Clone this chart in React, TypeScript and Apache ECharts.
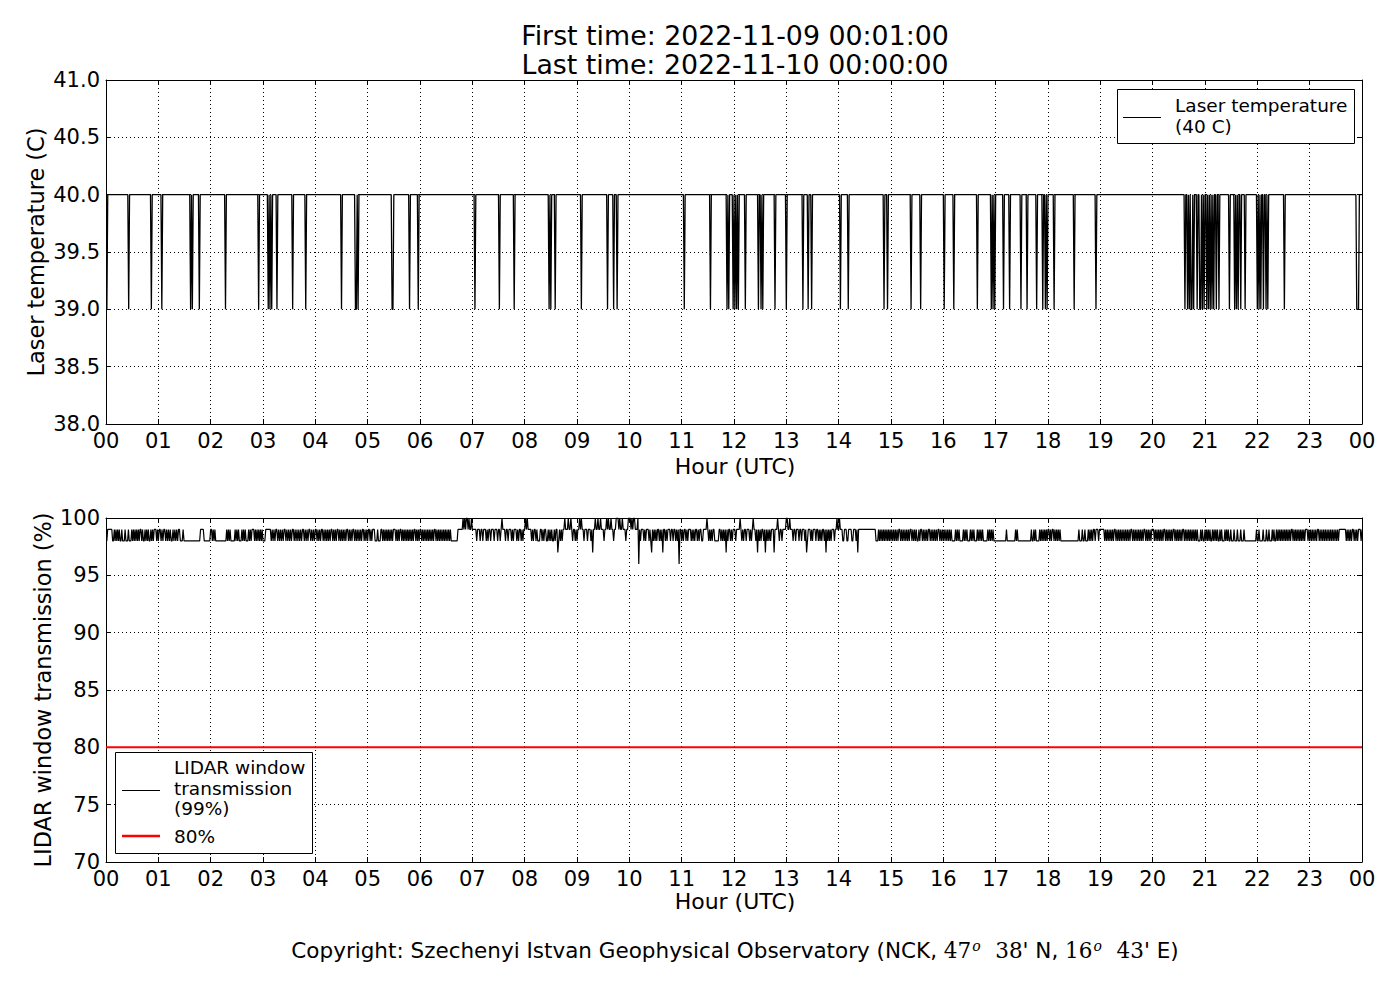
import React, { useEffect, useRef } from "react";
import * as echarts from "echarts";

const FONT = "DejaVu Sans";

const TITLE_LINES = ["First time: 2022-11-09 00:01:00", "Last time: 2022-11-10 00:00:00"];
const HOUR_LABELS = [
  "00", "01", "02", "03", "04", "05", "06", "07", "08", "09", "10", "11",
  "12", "13", "14", "15", "16", "17", "18", "19", "20", "21", "22", "23", "00",
];

// Laser temperature: 40 C every minute except the minutes listed (39 C)
const TEMP_NORMAL = 40;
const TEMP_LOW = 39;
const TEMP_LOW_MINUTES = [
  1, 26, 52, 64, 97, 99, 107, 137, 175, 186, 188, 190, 196, 214, 229, 270, 286, 287, 289,
  328, 329, 348, 358, 423, 451, 468, 508, 510, 515, 545, 575, 582, 586, 663, 693, 712, 714,
  719, 721, 723, 725, 733, 748, 751, 753, 767, 780, 799, 805, 809, 842, 851, 892, 896, 923,
  934, 961, 972, 999, 1015, 1017, 1019, 1029, 1036, 1049, 1056, 1067, 1074, 1077, 1079, 1087,
  1110, 1135, 1237, 1240, 1242, 1244, 1245, 1247, 1251, 1254, 1255, 1257, 1259, 1262, 1264,
  1266, 1268, 1270, 1273, 1276, 1288, 1294, 1296, 1298, 1301, 1306, 1320, 1322, 1324, 1327,
  1330, 1332, 1351, 1434, 1435, 1436,
];

// LIDAR window transmission, one character per minute for each hour
const TRANS_CODE: Record<string, number> = { "6": 96, "7": 97, "8": 98, "9": 99, "0": 100 };
const TRANS_HOURS = [
  "899999988989898988988898889888989898989899898898989889898999898",
  "998989989898988989898998889888888888888888888999988888889",
  "98989888888888888898989888889898988898989888989899989898989898",
  "889999998989899898989899898989899898989898998989899898989",
  "989898998989898989989898998989898989989898998989898989989898",
  "998989998889888998989898989898999898989989898989898989899898989",
  "98989898989898989989898989898989898988888888999999090900909909",
  "999989998998999898998999899989989099989989998989998989989899",
  "090999989899898889989899889898988989978989899099909909899898",
  "990909989998999897990990990999899090990998990009099099989900",
  "0909009990698999898999898798989899898979989899989989989896998",
  "989989899989898998989988999909898989988888998989897989989899",
  "989999098989989998989099897989899897989898999799909899899990",
  "09909998998999899899989789998989998998989899897989898999899099",
  "099988999889999889998979999999999999999999998889898989898989898",
  "989898989989898989898998989898898998989898998989898989989898",
  "989898989888898989888898989888989898889898989888889898989888",
  "888888888888988888888889898888888888888888988989888898989898989",
  "9898998989898988888888888888888888898889889888989898998999899",
  "999989898989898998989898989898989899898989898989899898989899",
  "9898989898989989898989899898989898998989898989898989888989889",
  "898989889898989889898889898988988898889888988898888888888888898",
  "898888988898898889898898989898989898989899898989898989898999898",
  "989898989989898989898989898989898999999998989898998989899989",
];
const THRESHOLD = 80;

function tempSeries(): [number, number][] {
  const low = new Set(TEMP_LOW_MINUTES);
  const out: [number, number][] = [];
  for (let m = 1; m <= 1440; m++) out.push([m / 60, low.has(m) ? TEMP_LOW : TEMP_NORMAL]);
  return out;
}

function transSeries(): [number, number][] {
  const out: [number, number][] = [];
  TRANS_HOURS.forEach((s, h) => {
    for (let j = 0; j < s.length; j++) out.push([h + (j + 1) / s.length, TRANS_CODE[s[j]]]);
  });
  return out;
}

const TICK_FONT = 21;
const GRID_LINE = { color: "#000", width: 1, type: [1, 3] as number[] };

function xAxes(gridIndex: number) {
  return [
    {
      type: "value", gridIndex, min: 0, max: 24, interval: 1, position: "bottom",
      axisLine: { show: true, onZero: false, lineStyle: { color: "#000", width: 1 } },
      axisTick: { show: true, inside: true, length: 5, lineStyle: { color: "#000" } },
      axisLabel: {
        show: true, margin: 6, color: "#000", fontSize: TICK_FONT, fontFamily: FONT,
        formatter: (v: number) => HOUR_LABELS[Math.round(v)],
      },
      splitLine: { show: true, lineStyle: GRID_LINE },
    },
    {
      type: "value", gridIndex, min: 0, max: 24, interval: 1, position: "top",
      axisLine: { show: true, onZero: false, lineStyle: { color: "#000", width: 1 } },
      axisTick: { show: true, inside: true, length: 5, lineStyle: { color: "#000" } },
      axisLabel: { show: false },
      splitLine: { show: false },
    },
  ];
}

function yAxes(gridIndex: number, min: number, max: number, interval: number, digits: number) {
  return [
    {
      type: "value", gridIndex, min, max, interval, position: "left",
      axisLine: { show: true, onZero: false, lineStyle: { color: "#000", width: 1 } },
      axisTick: { show: true, inside: true, length: 5, lineStyle: { color: "#000" } },
      axisLabel: {
        show: true, margin: 6, color: "#000", fontSize: TICK_FONT, fontFamily: FONT,
        formatter: (v: number) => v.toFixed(digits),
      },
      splitLine: { show: true, lineStyle: GRID_LINE },
    },
    {
      type: "value", gridIndex, min, max, interval, position: "right",
      axisLine: { show: true, onZero: false, lineStyle: { color: "#000", width: 1 } },
      axisTick: { show: true, inside: true, length: 5, lineStyle: { color: "#000" } },
      axisLabel: { show: false },
      splitLine: { show: false },
    },
  ];
}

function txt(text: string, x: number, y: number, size: number, extra: any = {}) {
  return {
    type: "text", x, y, z: 100,
    style: { text, fontSize: size, fontFamily: FONT, fill: "#000", align: "center", verticalAlign: "middle", ...extra },
  };
}

export default function App() {
  const ref = useRef<HTMLDivElement>(null);
  useEffect(() => {
    if (!ref.current) return;
    const chart = echarts.init(ref.current, null, { renderer: "svg" });
    const option: any = {
      animation: false,
      backgroundColor: "#fff",
      grid: [
        { left: 106, top: 80, width: 1256, height: 344, containLabel: false },
        { left: 106, top: 518, width: 1256, height: 344, containLabel: false },
      ],
      xAxis: [...xAxes(0), ...xAxes(1)],
      yAxis: [...yAxes(0, 38, 41, 0.5, 1), ...yAxes(1, 70, 100, 5, 0)],
      series: [
        {
          name: "Laser temperature (40 C)", type: "line", xAxisIndex: 0, yAxisIndex: 0,
          data: tempSeries(), showSymbol: false, symbol: "none",
          lineStyle: { color: "#000", width: 1.3 }, z: 3,
        },
        {
          name: "LIDAR window transmission (99%)", type: "line", xAxisIndex: 2, yAxisIndex: 2,
          data: transSeries(), showSymbol: false, symbol: "none",
          lineStyle: { color: "#000", width: 1.2 }, z: 3,
        },
        {
          name: "80%", type: "line", xAxisIndex: 2, yAxisIndex: 2,
          data: [[0, THRESHOLD], [24, THRESHOLD]], showSymbol: false, symbol: "none",
          lineStyle: { color: "#ff0000", width: 2 }, z: 4,
        },
      ],
      graphic: [
        txt(TITLE_LINES[0], 735, 35, 26.8),
        txt(TITLE_LINES[1], 735, 64, 26.8),
        txt("Hour (UTC)", 735, 466, 22),
        txt("Hour (UTC)", 735, 901, 22),
        { ...txt("Laser temperature (C)", 36, 252, 22.4), rotation: Math.PI / 2 },
        { ...txt("LIDAR window transmission (%)", 43, 690, 22.4), rotation: Math.PI / 2 },
        // top legend
        {
          type: "rect", z: 90, shape: { x: 1117.5, y: 89.5, width: 237, height: 54 },
          style: { fill: "#fff", stroke: "#000", lineWidth: 1 },
        },
        {
          type: "line", z: 95, shape: { x1: 1123, y1: 117.5, x2: 1161, y2: 117.5 },
          style: { stroke: "#000", lineWidth: 1.2 },
        },
        txt("Laser temperature", 1175, 105, 18.5, { align: "left" }),
        txt("(40 C)", 1175, 126, 18.5, { align: "left" }),
        // bottom legend
        {
          type: "rect", z: 90, shape: { x: 115.5, y: 752.5, width: 197, height: 101 },
          style: { fill: "#fff", stroke: "#000", lineWidth: 1 },
        },
        {
          type: "line", z: 95, shape: { x1: 122, y1: 790.5, x2: 160, y2: 790.5 },
          style: { stroke: "#000", lineWidth: 1.2 },
        },
        {
          type: "line", z: 95, shape: { x1: 122, y1: 836, x2: 160, y2: 836 },
          style: { stroke: "#ff0000", lineWidth: 2.5 },
        },
        txt("LIDAR window", 174, 767, 18.5, { align: "left" }),
        txt("transmission", 174, 788, 18.5, { align: "left" }),
        txt("(99%)", 174, 808, 18.5, { align: "left" }),
        txt("80%", 174, 836, 18.5, { align: "left" }),
        // copyright
        {
          type: "text", x: 735, y: 950, z: 100,
          style: {
            text: "Copyright: Szechenyi Istvan Geophysical Observatory (NCK, {m|47}{s|o}{m|  38}' N, {m|16}{s|o}{m|  43}' E)",
            fontSize: 21.5, fontFamily: FONT, fill: "#000", align: "center", verticalAlign: "middle",
            rich: {
              m: { fontFamily: "DejaVu Serif", fontSize: 21.5, fill: "#000" },
              s: { fontFamily: "DejaVu Serif", fontStyle: "italic", fontSize: 14, fill: "#000", verticalAlign: "top", padding: [0, 1, 8, 1] },
            },
          },
        },
      ],
    };
    chart.setOption(option);
    return () => chart.dispose();
  }, []);
  return (
    <div
      ref={ref}
      style={{ position: "absolute", left: 0, top: 0, width: 1400, height: 1000, background: "#fff" }}
    />
  );
}
